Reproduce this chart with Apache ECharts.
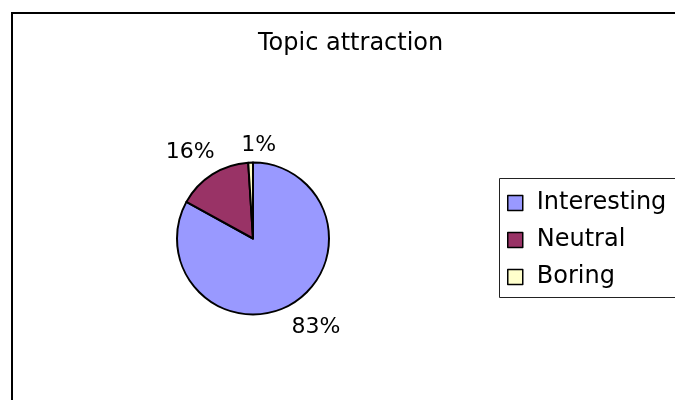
<!DOCTYPE html>
<html>
<head>
<meta charset="utf-8">
<script src="https://cdn.jsdelivr.net/npm/echarts@6/dist/echarts.min.js"></script>
<style>
  html, body { margin: 0; padding: 0; background: #fff; }
  #chart { width: 675px; height: 400px; }
</style>
</head>
<body>
<div id="chart"></div>
<script>
// Survey answers: how attractive the topic was
const categories = ['Interesting', 'Neutral', 'Boring'];
const shares = [83, 16, 1];
const colors = ['#9999FF', '#993366', '#FFFFCC'];

const FONT = 'DejaVu Sans';

// small nudges so the percentage labels sit like a best-fit layout
const labelNudges = [[8, -4], [-5, 5], [9, 15]];

const pieData = categories.map((name, i) => ({
  name: name,
  value: shares[i],
  itemStyle: { color: colors[i] }
}));

const chart = echarts.init(document.getElementById('chart'), null, { renderer: 'canvas' });

chart.setOption({
  backgroundColor: '#ffffff',
  animation: false,
  title: {
    text: 'Topic attraction',
    left: 253,
    top: 27,
    textStyle: { fontFamily: FONT, fontSize: 24, fontWeight: 'normal', color: '#000' }
  },
  legend: {
    orient: 'vertical',
    left: 502,
    top: 186,
    data: categories,
    icon: 'rect',
    itemWidth: 15,
    itemHeight: 15,
    itemGap: 13,
    selectedMode: false,
    itemStyle: { borderColor: '#000', borderWidth: 1.5 },
    textStyle: { fontFamily: FONT, fontSize: 24, color: '#000', padding: [0, 0, 0, 9] }
  },
  graphic: [
    {
      type: 'rect',
      shape: { x: 12, y: 13, width: 700, height: 420 },
      style: { fill: 'none', stroke: '#000', lineWidth: 2 },
      silent: true,
      z: -10
    },
    {
      type: 'rect',
      shape: { x: 499.5, y: 178.5, width: 220, height: 119 },
      style: { fill: 'none', stroke: '#222', lineWidth: 1 },
      silent: true,
      z: -10
    }
  ],
  series: [
    {
      type: 'pie',
      center: [253, 238.5],
      radius: 76,
      startAngle: 90,
      clockwise: true,
      silent: true,
      label: { show: false },
      labelLine: { show: false },
      itemStyle: { borderColor: '#000', borderWidth: 2 },
      data: pieData
    },
    {
      // transparent ring that carries the percentage labels around the pie
      type: 'pie',
      center: [253, 238.5],
      radius: [100, 110],
      startAngle: 90,
      clockwise: true,
      silent: true,
      legendHoverLink: false,
      itemStyle: { color: 'rgba(0,0,0,0)', borderWidth: 0 },
      label: {
        show: true,
        position: 'inside',
        formatter: '{c}%',
        fontFamily: FONT,
        fontSize: 22,
        color: '#000'
      },
      labelLine: { show: false },
      labelLayout: function (params) {
        const n = labelNudges[params.dataIndex] || [0, 0];
        return { dx: n[0], dy: n[1] };
      },
      data: categories.map((name, i) => ({ name: name, value: shares[i] }))
    }
  ]
});
</script>
</body>
</html>
